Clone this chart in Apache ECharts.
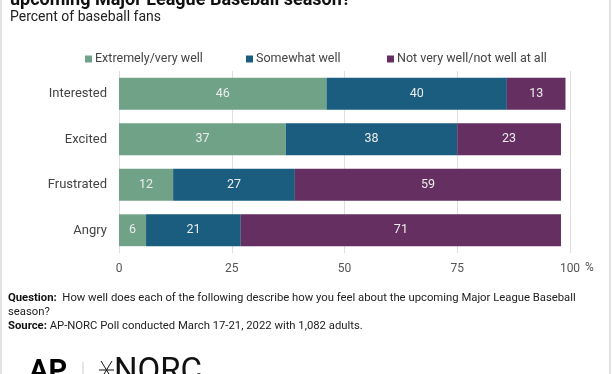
<!DOCTYPE html>
<html>
<head>
<meta charset="utf-8">
<script src="https://cdn.jsdelivr.net/npm/echarts@6/dist/echarts.min.js"></script>
<style>
html,body{margin:0;padding:0;background:#fff;}
#chart{width:612px;height:374px;}
</style>
</head>
<body>
<div id="chart"></div>
<script>
const categories = ['Interested', 'Excited', 'Frustrated', 'Angry'];
const seriesNames = ['Extremely/very well', 'Somewhat well', 'Not very well/not well at all'];
const extremelyVeryWell = [46, 37, 12, 6];
const somewhatWell = [40, 38, 27, 21];
const notVeryWell = [13, 23, 59, 71];
const xTicks = [0, 25, 50, 75, 100];
const colors = ['#70a287', '#1a5d7e', '#652f61'];

const chart = echarts.init(document.getElementById('chart'));
const FONT = 'Roboto';
const values = [extremelyVeryWell, somewhatWell, notVeryWell];

const legendLefts = [80, 241, 382];

chart.setOption({
  animation: false,
  textStyle: { fontFamily: FONT },
  grid: { left: 119, right: 42, top: 71, bottom: 121 },
  legend: seriesNames.map((n, i) => ({
    data: [n], left: legendLefts[i], top: 47.5, itemWidth: 7, itemHeight: 7, itemGap: 0,
    icon: 'rect', textStyle: { fontSize: 12.5, color: '#444', fontFamily: FONT, padding: [0, 0, 0, -2] },
    selectedMode: false
  })),
  xAxis: {
    type: 'value', min: 0, max: 100, interval: 25,
    axisLine: { show: false }, axisTick: { show: false },
    splitLine: { lineStyle: { color: '#dedede', width: 1 } },
    axisLabel: {
      fontSize: 12, color: '#555', margin: 10, fontFamily: FONT,
      formatter: v => xTicks.includes(v) ? String(v) : ''
    }
  },
  yAxis: {
    type: 'category', data: categories, inverse: true,
    axisLine: { show: false }, axisTick: { show: false },
    axisLabel: { fontSize: 13, color: '#444', margin: 12, fontFamily: FONT }
  },
  series: seriesNames.map((n, i) => ({
    name: n, type: 'bar', stack: 'total', data: values[i],
    barCategoryGap: '30%',
    itemStyle: { color: colors[i] },
    label: { show: true, position: 'inside', color: '#ececec', fontSize: 12.5, fontFamily: FONT }
  })),
  graphic: [
    { type: 'text', left: 10, top: -9, style: { text: 'upcoming Major League Baseball season?', font: 'bold 18px Roboto', fill: '#111' } },
    { type: 'text', left: 10, top: 10, style: { text: 'Percent of baseball fans', font: '14px Roboto', fill: '#222' } },
    { type: 'text', left: 585, top: 262, style: { text: '%', font: '12px Roboto', fill: '#555' } },
    { type: 'text', left: 8, top: 292.5, style: { rich: { b: { font: 'bold 11.3px Roboto', fill: '#111' }, n: { font: '11.3px Roboto', fill: '#222' } }, text: '{b|Question:}{n|  How well does each of the following describe how you feel about the upcoming Major League Baseball}' } },
    { type: 'text', left: 8, top: 306.5, style: { text: 'season?', font: '11.3px Roboto', fill: '#222' } },
    { type: 'text', left: 8, top: 320.5, style: { rich: { b: { font: 'bold 11.3px Roboto', fill: '#111' }, n: { font: '11.3px Roboto', fill: '#222' } }, text: '{b|Source:}{n| AP-NORC Poll conducted March 17-21, 2022 with 1,082 adults.}' } },
    { type: 'line', shape: { x1: 1, y1: 0, x2: 1, y2: 374 }, style: { stroke: '#e3e3e3', lineWidth: 2 } },
    { type: 'line', shape: { x1: 610, y1: 0, x2: 610, y2: 374 }, style: { stroke: '#e3e3e3', lineWidth: 2 } },
    { type: 'text', left: 29, top: 358, style: { text: 'AP', font: 'bold 29px Roboto', fill: '#000' } },
    { type: 'line', shape: { x1: 83, y1: 362, x2: 83, y2: 374 }, style: { stroke: '#ccc', lineWidth: 1 } },
    { type: 'line', shape: { x1: 99, y1: 370, x2: 114, y2: 370 }, style: { stroke: '#111', lineWidth: 1 } },
    { type: 'line', shape: { x1: 101, y1: 361, x2: 112, y2: 379 }, style: { stroke: '#111', lineWidth: 1 } },
    { type: 'line', shape: { x1: 112, y1: 361, x2: 101, y2: 379 }, style: { stroke: '#111', lineWidth: 1 } },
    { type: 'text', left: 114, top: 356, style: { text: 'NORC', font: '33px Roboto', fill: '#111' } }
  ]
});
</script>
</body>
</html>
